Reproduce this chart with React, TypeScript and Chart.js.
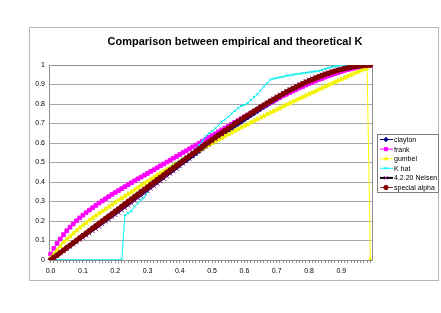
import React, { useEffect, useRef } from 'react';
import { Chart, registerables } from 'chart.js';
import { drawPoint } from 'chart.js/helpers';

Chart.register(...registerables);

// t grid of the Kendall distribution function
const CATEGORIES = [
  '0.00', '0.01', '0.02', '0.03', '0.04', '0.05', '0.06', '0.07', '0.08', '0.09',
  '0.10', '0.11', '0.12', '0.13', '0.14', '0.15', '0.16', '0.17', '0.18', '0.19',
  '0.20', '0.21', '0.22', '0.23', '0.24', '0.25', '0.26', '0.27', '0.28', '0.29',
  '0.30', '0.31', '0.32', '0.33', '0.34', '0.35', '0.36', '0.37', '0.38', '0.39',
  '0.40', '0.41', '0.42', '0.43', '0.44', '0.45', '0.46', '0.47', '0.48', '0.49',
  '0.50', '0.51', '0.52', '0.53', '0.54', '0.55', '0.56', '0.57', '0.58', '0.59',
  '0.60', '0.61', '0.62', '0.63', '0.64', '0.65', '0.66', '0.67', '0.68', '0.69',
  '0.70', '0.71', '0.72', '0.73', '0.74', '0.75', '0.76', '0.77', '0.78', '0.79',
  '0.80', '0.81', '0.82', '0.83', '0.84', '0.85', '0.86', '0.87', '0.88', '0.89',
  '0.90', '0.91', '0.92', '0.93', '0.94', '0.95', '0.96', '0.97', '0.98', '0.99',
];

const CLAYTON = [
  0, 0.012, 0.024, 0.037, 0.049, 0.061, 0.073, 0.086, 0.098, 0.11,
  0.122, 0.134, 0.147, 0.159, 0.171, 0.183, 0.196, 0.208, 0.22, 0.232,
  0.244, 0.257, 0.269, 0.281, 0.293, 0.306, 0.318, 0.33, 0.342, 0.354,
  0.366, 0.379, 0.391, 0.403, 0.415, 0.427, 0.439, 0.451, 0.463, 0.475,
  0.488, 0.5, 0.511, 0.524, 0.535, 0.547, 0.559, 0.571, 0.583, 0.595,
  0.606, 0.618, 0.629, 0.641, 0.653, 0.664, 0.675, 0.687, 0.698, 0.709,
  0.72, 0.731, 0.742, 0.753, 0.763, 0.774, 0.784, 0.794, 0.805, 0.814,
  0.824, 0.834, 0.844, 0.853, 0.862, 0.871, 0.88, 0.888, 0.897, 0.905,
  0.913, 0.92, 0.928, 0.935, 0.941, 0.948, 0.954, 0.96, 0.966, 0.971,
  0.976, 0.98, 0.984, 0.988, 0.991, 0.994, 0.996, 0.998, 0.999, 1.0,
];

const FRANK = [
  0.03, 0.06, 0.085, 0.108, 0.13, 0.15, 0.168, 0.185, 0.201, 0.216,
  0.23, 0.243, 0.256, 0.268, 0.28, 0.292, 0.303, 0.314, 0.325, 0.336,
  0.346, 0.356, 0.366, 0.376, 0.386, 0.396, 0.406, 0.416, 0.425, 0.435,
  0.444, 0.454, 0.463, 0.473, 0.483, 0.492, 0.502, 0.512, 0.522, 0.531,
  0.541, 0.551, 0.56, 0.57, 0.58, 0.589, 0.599, 0.609, 0.618, 0.628,
  0.638, 0.647, 0.657, 0.667, 0.677, 0.686, 0.696, 0.706, 0.715, 0.725,
  0.735, 0.744, 0.754, 0.763, 0.772, 0.781, 0.79, 0.799, 0.808, 0.816,
  0.825, 0.833, 0.842, 0.85, 0.858, 0.866, 0.874, 0.882, 0.889, 0.897,
  0.904, 0.911, 0.918, 0.925, 0.931, 0.938, 0.944, 0.95, 0.956, 0.961,
  0.967, 0.972, 0.976, 0.98, 0.984, 0.988, 0.991, 0.994, 0.997, 1.0,
];

const GUMBEL = [
  0.01, 0.03, 0.05, 0.07, 0.09, 0.105, 0.12, 0.135, 0.15, 0.165,
  0.178, 0.19, 0.203, 0.215, 0.227, 0.239, 0.25, 0.261, 0.272, 0.283,
  0.295, 0.306, 0.317, 0.327, 0.338, 0.349, 0.36, 0.371, 0.382, 0.393,
  0.403, 0.414, 0.424, 0.435, 0.445, 0.455, 0.465, 0.475, 0.485, 0.495,
  0.505, 0.514, 0.524, 0.534, 0.543, 0.553, 0.562, 0.571, 0.581, 0.59,
  0.599, 0.608, 0.617, 0.626, 0.635, 0.644, 0.653, 0.662, 0.67, 0.679,
  0.688, 0.696, 0.705, 0.713, 0.722, 0.73, 0.738, 0.747, 0.755, 0.763,
  0.771, 0.779, 0.788, 0.796, 0.804, 0.812, 0.82, 0.828, 0.835, 0.843,
  0.851, 0.859, 0.866, 0.874, 0.882, 0.889, 0.897, 0.905, 0.912, 0.92,
  0.927, 0.934, 0.942, 0.949, 0.957, 0.964, 0.971, 0.978, 0.986, 0,
];

const K_HAT = [
  0, 0, 0, 0, 0, 0, 0, 0, 0, 0,
  0, 0, 0, 0, 0, 0, 0, 0, 0, 0,
  0, 0, 0, 0.23, 0.24, 0.25, 0.275, 0.29, 0.31, 0.32,
  0.35, 0.37, 0.39, 0.41, 0.425, 0.44, 0.455, 0.47, 0.485, 0.5,
  0.51, 0.52, 0.53, 0.545, 0.555, 0.57, 0.59, 0.61, 0.635, 0.65,
  0.66, 0.675, 0.69, 0.71, 0.72, 0.735, 0.75, 0.765, 0.778, 0.79,
  0.795, 0.805, 0.82, 0.835, 0.85, 0.87, 0.89, 0.905, 0.925, 0.93,
  0.933, 0.937, 0.94, 0.945, 0.948, 0.95, 0.953, 0.955, 0.958, 0.96,
  0.963, 0.965, 0.968, 0.97, 0.975, 0.98, 0.985, 0.99, 0.993, 0.996,
  1, 1, 1, 1, 1, 1, 1, 1, 1, 1,
];

const NELSEN_4_2_20 = [
  0, 0.012, 0.023, 0.034, 0.045, 0.057, 0.068, 0.08, 0.091, 0.103,
  0.114, 0.126, 0.137, 0.149, 0.16, 0.172, 0.184, 0.196, 0.208, 0.219,
  0.231, 0.243, 0.256, 0.267, 0.28, 0.292, 0.304, 0.317, 0.329, 0.341,
  0.354, 0.367, 0.379, 0.392, 0.404, 0.417, 0.43, 0.443, 0.455, 0.468,
  0.481, 0.494, 0.507, 0.52, 0.532, 0.545, 0.558, 0.571, 0.583, 0.595,
  0.608, 0.621, 0.633, 0.645, 0.657, 0.67, 0.681, 0.694, 0.705, 0.717,
  0.728, 0.739, 0.751, 0.762, 0.774, 0.786, 0.796, 0.807, 0.817, 0.828,
  0.839, 0.848, 0.857, 0.867, 0.876, 0.885, 0.893, 0.901, 0.909, 0.917,
  0.925, 0.932, 0.938, 0.944, 0.951, 0.957, 0.962, 0.967, 0.971, 0.976,
  0.981, 0.984, 0.986, 0.989, 0.992, 0.995, 0.996, 0.997, 0.999, 1.0,
];

const SPECIAL_ALPHA = [
  0, 0.013, 0.025, 0.038, 0.05, 0.063, 0.075, 0.088, 0.1, 0.113,
  0.125, 0.138, 0.15, 0.163, 0.175, 0.188, 0.2, 0.213, 0.225, 0.237,
  0.25, 0.262, 0.275, 0.287, 0.3, 0.312, 0.325, 0.337, 0.35, 0.362,
  0.374, 0.387, 0.399, 0.412, 0.424, 0.436, 0.449, 0.461, 0.473, 0.485,
  0.497, 0.51, 0.522, 0.534, 0.546, 0.558, 0.57, 0.582, 0.594, 0.605,
  0.617, 0.629, 0.641, 0.652, 0.664, 0.675, 0.686, 0.698, 0.709, 0.72,
  0.731, 0.741, 0.752, 0.763, 0.773, 0.784, 0.794, 0.804, 0.814, 0.823,
  0.833, 0.842, 0.852, 0.861, 0.87, 0.878, 0.887, 0.895, 0.903, 0.911,
  0.918, 0.925, 0.932, 0.939, 0.946, 0.952, 0.957, 0.963, 0.968, 0.973,
  0.977, 0.982, 0.985, 0.989, 0.992, 0.994, 0.996, 0.998, 0.999, 1.0,
];

const SERIES_NAMES = ['clayton', 'frank', 'gumbel', 'K hat', '4.2.20 Nelsen', 'special alpha'];

const TITLE = 'Comparison between empirical and theoretical K';
const FONT = '"Liberation Sans", Arial, sans-serif';

type Style = {
  line: string;
  lineWidth: number;
  marker: string;
  markerColor: string;
  radius: number;
};

const STYLES: Style[] = [
  { line: '#000080', lineWidth: 1, marker: 'rectRot', markerColor: '#000080', radius: 2.5 },
  { line: '#FF00FF', lineWidth: 1, marker: 'rect', markerColor: '#FF00FF', radius: 2.6 },
  { line: '#FFFF00', lineWidth: 1, marker: 'triangle', markerColor: '#F4F400', radius: 2.5 },
  { line: '#00FFFF', lineWidth: 1, marker: 'crossRot', markerColor: '#00E8E8', radius: 1.5 },
  { line: '#000000', lineWidth: 1.5, marker: 'crossRot', markerColor: '#800080', radius: 2.8 },
  { line: '#993333', lineWidth: 1, marker: 'circle', markerColor: '#800000', radius: 2.4 },
];

const frame = {
  id: 'frame',
  beforeDraw(chart: any) {
    const { ctx, width, height } = chart;
    ctx.save();
    ctx.fillStyle = '#ffffff';
    ctx.fillRect(0, 0, width, height);
    ctx.strokeStyle = '#b8b8b8';
    ctx.lineWidth = 1;
    ctx.strokeRect(29.5, 27.5, 409, 253);
    ctx.fillStyle = '#000000';
    ctx.font = `bold 11px ${FONT}`;
    ctx.textAlign = 'center';
    ctx.textBaseline = 'middle';
    ctx.fillText(TITLE, 235, 42);
    ctx.restore();
  },
  beforeDatasetsDraw(chart: any) {
    const { ctx, chartArea: a } = chart;
    ctx.save();
    ctx.strokeStyle = '#909090';
    ctx.lineWidth = 1;
    ctx.strokeRect(Math.round(a.left) + 0.5, Math.round(a.top) + 0.5, Math.round(a.right - a.left), Math.round(a.bottom - a.top));
    ctx.restore();
  },
  afterDraw(chart: any) {
    const { ctx } = chart;
    const boxX = 377.5;
    const boxY = 134.5;
    const boxW = 61;
    const boxH = 58;
    ctx.save();
    ctx.fillStyle = '#ffffff';
    ctx.fillRect(boxX, boxY, boxW, boxH);
    ctx.strokeStyle = '#808080';
    ctx.lineWidth = 1;
    ctx.strokeRect(boxX, boxY, boxW, boxH);
    chart.data.datasets.forEach((ds: any, i: number) => {
      const st = STYLES[i];
      const y = 139.5 + i * 9.6;
      ctx.strokeStyle = st.line;
      ctx.lineWidth = i === 4 ? 2 : 1;
      ctx.beginPath();
      ctx.moveTo(380, y);
      ctx.lineTo(393, y);
      ctx.stroke();
      ctx.fillStyle = st.markerColor;
      ctx.strokeStyle = st.markerColor;
      ctx.lineWidth = 1;
      drawPoint(ctx, { pointStyle: st.marker, radius: Math.min(st.radius, 2.2), rotation: 0, borderWidth: 1 }, 386, y);
      ctx.fillStyle = '#000000';
      ctx.font = `7px ${FONT}`;
      ctx.textAlign = 'left';
      ctx.textBaseline = 'middle';
      ctx.fillText(ds.label, 394, y + 0.5);
    });
    ctx.restore();
  },
};

export default function App() {
  const ref = useRef<HTMLCanvasElement | null>(null);

  useEffect(() => {
    document.body.style.margin = '0';
    const canvas = ref.current;
    if (!canvas) return;
    const seriesData = [CLAYTON, FRANK, GUMBEL, K_HAT, NELSEN_4_2_20, SPECIAL_ALPHA];
    const datasets = seriesData.map((data, i) => {
      const st = STYLES[i];
      return {
        label: SERIES_NAMES[i],
        data,
        borderColor: st.line,
        borderWidth: st.lineWidth,
        backgroundColor: st.markerColor,
        pointStyle: st.marker,
        pointRadius: st.radius,
        pointBorderWidth: 1,
        pointBorderColor: st.markerColor,
        pointBackgroundColor: st.markerColor,
        tension: 0,
        fill: false,
        // later series sit on top, the first one at the bottom
        order: seriesData.length - i,
      };
    });

    const chart = new Chart(canvas, {
      type: 'line',
      data: { labels: CATEGORIES, datasets },
      plugins: [frame],
      options: {
        responsive: false,
        animation: false,
        devicePixelRatio: 1,
        layout: { padding: { left: 0, right: 69, top: 65, bottom: 0 } },
        plugins: {
          legend: { display: false },
          title: { display: false },
          tooltip: { enabled: false },
        },
        scales: {
          x: {
            type: 'category',
            offset: true,
            afterFit: (s: any) => {
              s.height = 53;
            },
            grid: {
              display: true,
              drawOnChartArea: false,
              drawTicks: true,
              tickLength: 3,
              color: '#909090',
              offset: false,
            },
            border: { color: '#808080', width: 1 },
            ticks: {
              autoSkip: false,
              maxRotation: 0,
              minRotation: 0,
              padding: 4,
              color: '#000000',
              font: { family: FONT, size: 7 },
              callback: (_v: any, idx: number) =>
                idx % 10 === 0 ? Number(CATEGORIES[idx]).toFixed(1) : '',
            },
          },
          y: {
            min: 0,
            max: 1,
            afterFit: (s: any) => {
              s.width = 49;
            },
            grid: { color: '#a8a8a8', drawTicks: false },
            border: { color: '#808080', width: 1 },
            ticks: {
              stepSize: 0.1,
              padding: 4,
              color: '#000000',
              font: { family: FONT, size: 7 },
              callback: (v: any) => {
                const n = Math.round(Number(v) * 10) / 10;
                return n === 0 || n === 1 ? String(n) : n.toFixed(1);
              },
            },
          },
        },
      },
    });
    return () => chart.destroy();
  }, []);

  return <canvas ref={ref} width={441} height={313} style={{ display: 'block', width: 441, height: 313 }} />;
}
